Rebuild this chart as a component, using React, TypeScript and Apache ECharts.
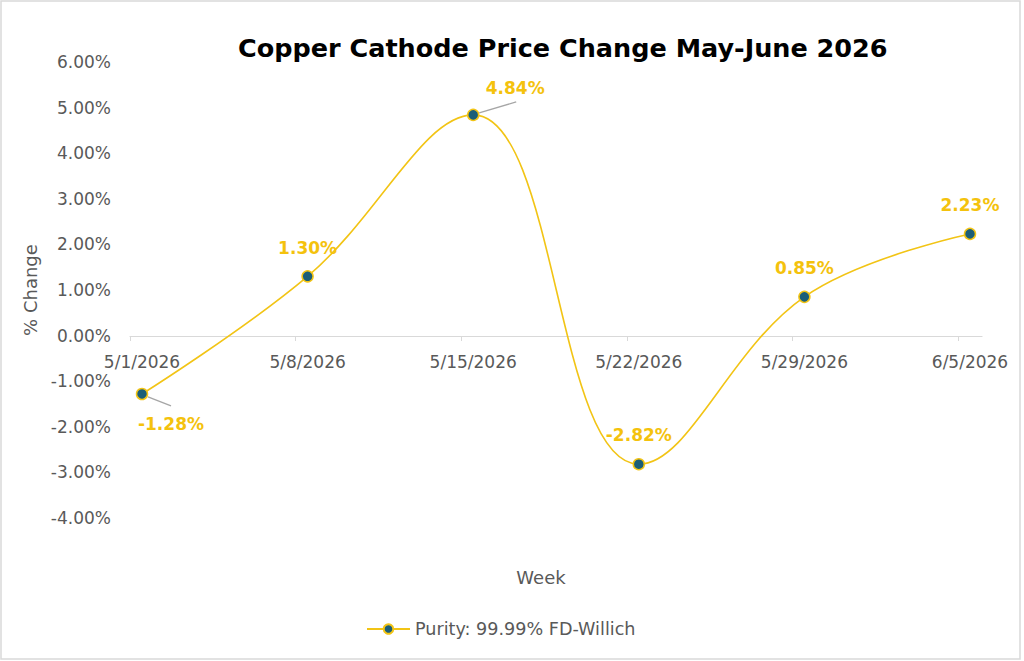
import React, { useEffect, useRef } from "react";
import * as echarts from "echarts";

const weeks = ["5/1/2026", "5/8/2026", "5/15/2026", "5/22/2026", "5/29/2026", "6/5/2026"];
const changes = [-1.28, 1.3, 4.84, -2.82, 0.85, 2.23];
const seriesName = "Purity: 99.99% FD-Willich";
const tickPositions = [-0.0725, 0.9275, 1.9275, 2.9275, 3.9275, 4.9275];
const labelPositions = [0, 1, 2, 3, 4, 5];
// label displacement (dx, dy) relative to default position
const labelShift = [
  [29, 1],
  [0, 0],
  [42, 2],
  [0, 0],
  [0, 0],
  [0, 0],
];
// leader lines: data index, start offset, end offset (px from the point)
const leaders = [
  { i: 0, from: [6, 3], to: [29, 12] },
  { i: 2, from: [6, -2], to: [43, -13] },
];

const YELLOW = "#F2C415";
const LABEL_YELLOW = "#F4C20D";
const TEAL = "#1B5E78";
const GREY = "#595959";
const FONT = "'DejaVu Sans', sans-serif";

export default function App() {
  const ref = useRef<HTMLDivElement>(null);
  useEffect(() => {
    document.body.style.margin = "0";
    const chart = echarts.init(ref.current!, null, { renderer: "svg" });
    const data = changes.map((v, i) => ({
      value: [i, v],
      label: {
        position: i === 0 ? "bottom" : "top",
      },
    }));
    const staticGraphics = [
      {
        type: "rect",
        shape: { x: 1, y: 1, width: 1019, height: 658 },
        style: { fill: "none", stroke: "#D9D9D9", lineWidth: 1.5 },
        silent: true,
      },
      {
        type: "text",
        x: 541,
        y: 577,
        style: {
          text: "Week",
          fill: GREY,
          font: `18px ${FONT}`,
          textAlign: "center",
          textVerticalAlign: "middle",
        },
      },
    ];
    chart.setOption({
      animation: false,
      backgroundColor: "#ffffff",
      textStyle: { fontFamily: FONT },
      title: {
        text: "Copper Cathode Price Change May-June 2026",
        left: 233,
        top: 30,
        textStyle: { fontSize: 25.5, fontWeight: "bold", color: "#000000", fontFamily: FONT },
      },
      grid: { left: 130, right: 42, top: 62, bottom: 143 },
      xAxis: {
        type: "value",
        min: -0.0725,
        max: 5.0725,
        offset: -182,
        splitLine: { show: false },
        axisLine: { show: true, onZero: false, lineStyle: { color: "#D9D9D9", width: 1.2 } },
        axisTick: { show: true, customValues: tickPositions, length: 5, lineStyle: { color: "#D9D9D9" } },
        axisLabel: {
          customValues: labelPositions,
          formatter: (v: number) => weeks[Math.round(v)] ?? "",
          color: GREY,
          fontSize: 17,
          margin: 17,
          fontFamily: FONT,
        },
      },
      yAxis: {
        type: "value",
        min: -4,
        max: 6,
        interval: 1,
        name: "% Change",
        nameLocation: "middle",
        nameGap: 88,
        nameTextStyle: { color: GREY, fontSize: 18, fontFamily: FONT },
        splitLine: { show: false },
        axisLine: { show: false },
        axisTick: { show: false },
        axisLabel: {
          formatter: (v: number) => v.toFixed(2) + "%",
          color: GREY,
          fontSize: 17,
          margin: 19,
          fontFamily: FONT,
        },
      },
      legend: {
        bottom: 18,
        left: 361,
        itemWidth: 43,
        itemHeight: 12,
        itemGap: 10,
        textStyle: { color: GREY, fontSize: 17.6, fontFamily: FONT },
        data: [seriesName],
      },
      graphic: staticGraphics,
      series: [
        {
          name: seriesName,
          type: "line",
          smooth: 0.4,
          data,
          symbol: "circle",
          symbolSize: 11,
          z: 3,
          lineStyle: { color: YELLOW, width: 1.6 },
          itemStyle: { color: TEAL, borderColor: YELLOW, borderWidth: 1.5 },
          label: {
            show: true,
            distance: 14,
            formatter: (p: any) => p.value[1].toFixed(2) + "%",
            color: LABEL_YELLOW,
            fontWeight: "bold",
            fontSize: 17,
            fontFamily: FONT,
          },
          labelLayout: (p: any) => {
            const s = labelShift[p.dataIndex] || [0, 0];
            return { dx: s[0], dy: s[1] };
          },
        },
      ],
    });
    const lines = leaders.map((l) => {
      const p = chart.convertToPixel({ seriesIndex: 0 }, [l.i, changes[l.i]]) as number[];
      return {
        type: "line",
        z: 1,
        silent: true,
        shape: { x1: p[0] + l.from[0], y1: p[1] + l.from[1], x2: p[0] + l.to[0], y2: p[1] + l.to[1] },
        style: { stroke: "#A6A6A6", lineWidth: 1.3 },
      };
    });
    chart.setOption({ graphic: [...staticGraphics, ...lines] }, { replaceMerge: ["graphic"] });
    return () => chart.dispose();
  }, []);
  return (
    <div
      ref={ref}
      style={{ position: "absolute", left: 0, top: 0, width: 1024, height: 661 }}
    />
  );
}
